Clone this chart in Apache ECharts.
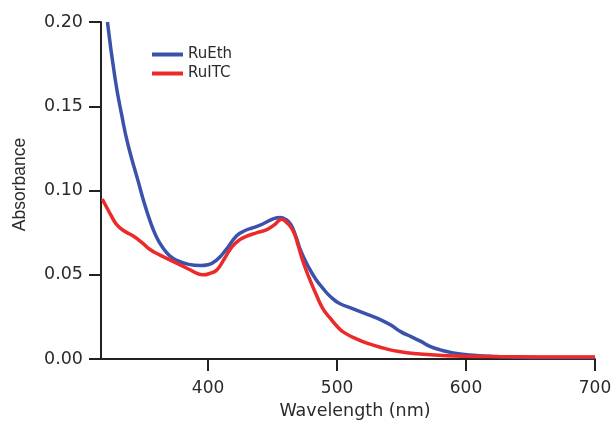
<!DOCTYPE html>
<html>
<head>
<meta charset="utf-8">
<script src="https://cdn.jsdelivr.net/npm/echarts@6/dist/echarts.min.js"></script>
<style>
  html, body { margin: 0; padding: 0; background: #fff; }
  #chart { width: 616px; height: 425px; }
</style>
</head>
<body>
<div id="chart"></div>
<script>
// RuEth (blue)
const ruEthWavelength = [322, 328, 333, 338, 346, 350, 355, 360, 365, 370, 376, 385, 394, 400, 407, 414, 422, 428, 435, 442, 450, 456, 460, 464, 468, 472, 477, 483, 489, 495, 502, 512, 522, 532, 541, 550, 557, 565, 572, 580, 590, 603, 624, 650, 700]
const ruEthAbs = [0.200, 0.166, 0.145, 0.127, 0.105, 0.094, 0.082, 0.0725, 0.066, 0.0615, 0.0585, 0.0562, 0.0555, 0.056, 0.059, 0.065, 0.073, 0.076, 0.078, 0.080, 0.083, 0.084, 0.083, 0.080, 0.073, 0.064, 0.056, 0.048, 0.042, 0.037, 0.033, 0.030, 0.027, 0.024, 0.0205, 0.016, 0.0135, 0.0105, 0.0076, 0.0055, 0.0037, 0.0025, 0.0015, 0.001, 0.001]

// RuITC (red)
const ruItcWavelength = [318, 320, 325, 329, 335, 342, 349, 355, 362, 370, 378, 386, 391, 396, 402, 407, 413, 419, 425, 430, 438, 446, 452, 457, 461, 466, 470, 474, 479, 484, 489, 495, 500, 505, 515, 525, 536, 548, 562, 585, 620, 660, 700]
const ruItcAbs = [0.095, 0.092, 0.085, 0.080, 0.076, 0.073, 0.069, 0.065, 0.062, 0.059, 0.056, 0.053, 0.051, 0.050, 0.051, 0.053, 0.060, 0.067, 0.071, 0.073, 0.075, 0.077, 0.080, 0.083, 0.081, 0.076, 0.067, 0.057, 0.047, 0.038, 0.030, 0.024, 0.0195, 0.016, 0.012, 0.009, 0.0065, 0.0045, 0.0032, 0.002, 0.0015, 0.0013, 0.0012]

const xTicks = [400, 500, 600, 700]

const pairs = (xs, ys) => xs.map((x, i) => [x, ys[i]])
const axisColor = '#222'
const textColor = '#2a2a2a'
const labelFont = 'DejaVu Sans'

const chart = echarts.init(document.getElementById('chart'))
chart.setOption({
  animation: false,
  grid: { left: 101, right: 21, top: 22, bottom: 62 },
  legend: {
    orient: 'vertical',
    left: 147,
    top: 42,
    itemWidth: 31,
    itemHeight: 4,
    itemGap: 4,
    icon: 'rect',
    textStyle: { fontFamily: labelFont, fontSize: 15, color: textColor },
    data: ['RuEth', 'RuITC']
  },
  xAxis: {
    type: 'value',
    min: 317,
    max: 700,
    name: 'Wavelength (nm)',
    nameLocation: 'middle',
    nameGap: 36,
    nameTextStyle: { fontFamily: labelFont, fontSize: 17.5, color: textColor, padding: [0, 0, 0, 14] },
    splitLine: { show: false },
    axisLine: { lineStyle: { color: axisColor, width: 2 } },
    axisTick: { customValues: xTicks, length: 12, lineStyle: { color: axisColor, width: 2 } },
    axisLabel: { customValues: xTicks, margin: 21, fontFamily: labelFont, fontSize: 17, color: textColor }
  },
  yAxis: {
    type: 'value',
    min: 0,
    max: 0.2,
    interval: 0.05,
    name: 'Absorbance',
    nameLocation: 'middle',
    nameGap: 72,
    nameTextStyle: { fontFamily: 'Liberation Sans', fontSize: 17.5, color: textColor, padding: [0, 0, 0, 12] },
    splitLine: { show: false },
    axisLine: { show: true, lineStyle: { color: axisColor, width: 2 } },
    axisTick: { show: true, length: 12, lineStyle: { color: axisColor, width: 2 } },
    axisLabel: {
      margin: 18,
      fontFamily: labelFont,
      fontSize: 17.5,
      color: textColor,
      formatter: v => v.toFixed(2)
    }
  },
  series: [
    {
      name: 'RuEth',
      type: 'line',
      showSymbol: false,
      smooth: 0.5,
      color: '#3a52aa',
      lineStyle: { width: 3.5 },
      data: pairs(ruEthWavelength, ruEthAbs)
    },
    {
      name: 'RuITC',
      type: 'line',
      showSymbol: false,
      smooth: 0.5,
      color: '#ec2a2a',
      lineStyle: { width: 3.5 },
      data: pairs(ruItcWavelength, ruItcAbs)
    }
  ]
})
</script>
</body>
</html>
